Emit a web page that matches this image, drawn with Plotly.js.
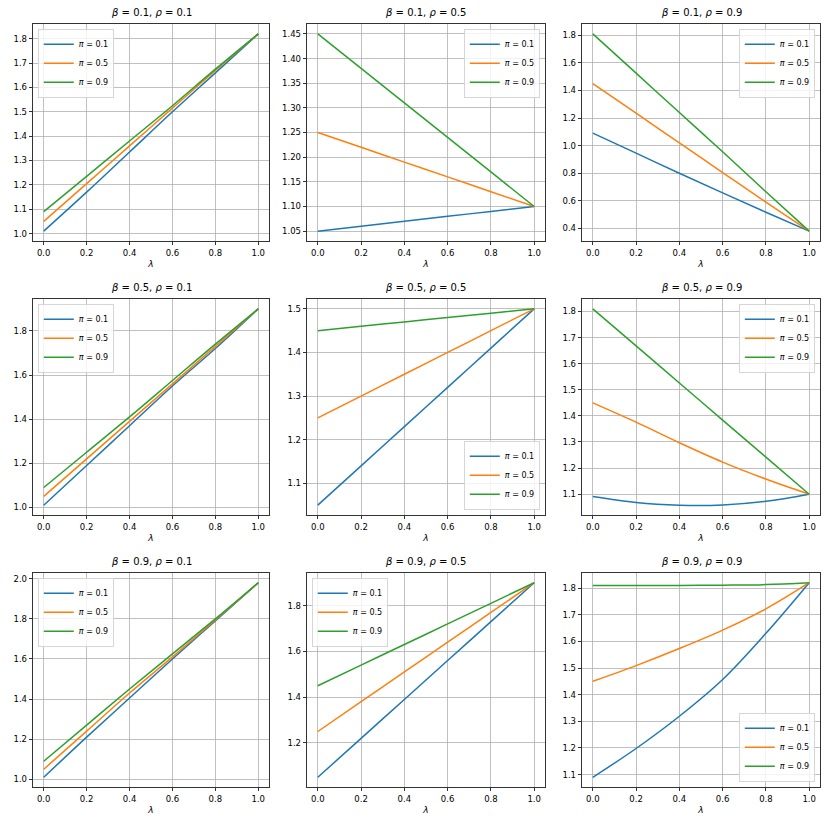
<!DOCTYPE html>
<html>
<head>
<meta charset="utf-8">
<script src="https://cdn.plot.ly/plotly-3.0.1.min.js"></script>
<style>html,body{margin:0;padding:0;background:#fff;}#chart{width:830px;height:830px;}</style>
</head>
<body>
<div id="chart"></div>
<script>
// lambda grid
const lam = [0, 0.2, 0.4, 0.6, 0.8, 1.0];
const piLabels = ['0.1', '0.5', '0.9'];

// beta=0.1, rho=0.1
const b01r01_p01 = [1.01, 1.17, 1.335, 1.50, 1.66, 1.82];
const b01r01_p05 = [1.05, 1.205, 1.36, 1.515, 1.67, 1.82];
const b01r01_p09 = [1.09, 1.235, 1.38, 1.525, 1.675, 1.82];
// beta=0.1, rho=0.5
const b01r05_p01 = [1.05, 1.06, 1.07, 1.08, 1.09, 1.10];
const b01r05_p05 = [1.25, 1.22, 1.19, 1.16, 1.13, 1.10];
const b01r05_p09 = [1.45, 1.38, 1.31, 1.24, 1.17, 1.10];
// beta=0.1, rho=0.9
const b01r09_p01 = [1.09, 0.945, 0.80, 0.657, 0.517, 0.38];
const b01r09_p05 = [1.45, 1.235, 1.02, 0.805, 0.59, 0.38];
const b01r09_p09 = [1.81, 1.525, 1.24, 0.955, 0.665, 0.38];
// beta=0.5, rho=0.1
const b05r01_p01 = [1.01, 1.19, 1.37, 1.55, 1.72, 1.90];
const b05r01_p05 = [1.05, 1.22, 1.39, 1.56, 1.73, 1.90];
const b05r01_p09 = [1.09, 1.25, 1.41, 1.575, 1.74, 1.90];
// beta=0.5, rho=0.5
const b05r05_p01 = [1.05, 1.14, 1.23, 1.32, 1.41, 1.50];
const b05r05_p05 = [1.25, 1.30, 1.35, 1.40, 1.45, 1.50];
const b05r05_p09 = [1.45, 1.46, 1.47, 1.48, 1.49, 1.50];
// beta=0.5, rho=0.9
const b05r09_p01 = [1.091, 1.068, 1.058, 1.059, 1.073, 1.10];
const b05r09_p05 = [1.45, 1.376, 1.297, 1.223, 1.158, 1.10];
const b05r09_p09 = [1.81, 1.668, 1.526, 1.384, 1.242, 1.10];
// beta=0.9, rho=0.1
const b09r01_p01 = [1.01, 1.21, 1.405, 1.60, 1.79, 1.98];
const b09r01_p05 = [1.05, 1.24, 1.43, 1.61, 1.795, 1.98];
const b09r01_p09 = [1.09, 1.27, 1.45, 1.625, 1.80, 1.98];
// beta=0.9, rho=0.5
const b09r05_p01 = [1.05, 1.22, 1.39, 1.56, 1.73, 1.90];
const b09r05_p05 = [1.25, 1.38, 1.51, 1.64, 1.77, 1.90];
const b09r05_p09 = [1.45, 1.54, 1.63, 1.72, 1.81, 1.90];
// beta=0.9, rho=0.9
const b09r09_p01 = [1.09, 1.198, 1.319, 1.457, 1.630, 1.82];
const b09r09_p05 = [1.45, 1.509, 1.573, 1.642, 1.722, 1.82];
const b09r09_p09 = [1.81, 1.81, 1.81, 1.811, 1.813, 1.82];

const betaLabels = ['0.1', '0.5', '0.9'];
const rhoLabels = ['0.1', '0.5', '0.9'];

const panels = [
  [b01r01_p01, b01r01_p05, b01r01_p09],
  [b01r05_p01, b01r05_p05, b01r05_p09],
  [b01r09_p01, b01r09_p05, b01r09_p09],
  [b05r01_p01, b05r01_p05, b05r01_p09],
  [b05r05_p01, b05r05_p05, b05r05_p09],
  [b05r09_p01, b05r09_p05, b05r09_p09],
  [b09r01_p01, b09r01_p05, b09r01_p09],
  [b09r05_p01, b09r05_p05, b09r05_p09],
  [b09r09_p01, b09r09_p05, b09r09_p09]
];

// styling / layout settings
const colors = ['#1f77b4', '#ff7f0e', '#2ca02c'];
const W = 830, H = 830;
const colPx = [[33, 269], [307, 545], [582, 820]];
const rowPx = [[24, 241], [299, 515], [573, 787]];
const dticks = [0.1, 0.05, 0.2, 0.2, 0.1, 0.1, 0.2, 0.2, 0.1];
const tfmt = ['.1f', '.2f', '.1f', '.1f', '.1f', '.1f', '.1f', '.1f', '.1f'];
const legPos = ['tl', 'tr', 'tr', 'tl', 'br', 'tr', 'tl', 'tl', 'br'];

const FONT = 'DejaVu Sans, sans-serif';
const traces = [];
const layout = {
  width: W, height: H,
  margin: {l: 0, r: 0, t: 0, b: 0},
  paper_bgcolor: '#fff', plot_bgcolor: '#fff',
  font: {family: FONT, size: 8.5, color: '#000'},
  annotations: [],
  showlegend: true
};

function yRange(arrs) {
  let mn = Infinity, mx = -Infinity;
  arrs.forEach(a => a.forEach(v => { mn = Math.min(mn, v); mx = Math.max(mx, v); }));
  const pad = (mx - mn) * 0.05;
  return [mn - pad, mx + pad];
}

panels.forEach((series, k) => {
  const r = Math.floor(k / 3), c = k % 3;
  const idx = k === 0 ? '' : String(k + 1);
  const xd = [colPx[c][0] / W, colPx[c][1] / W];
  const yd = [1 - rowPx[r][1] / H, 1 - rowPx[r][0] / H];
  const legName = 'legend' + idx;

  series.forEach((ys, j) => {
    traces.push({
      x: lam, y: ys, type: 'scatter', mode: 'lines',
      line: {color: colors[j], width: 1.5, shape: 'spline', smoothing: 1},
      name: '<i>π</i> = ' + piLabels[j],
      xaxis: 'x' + idx, yaxis: 'y' + idx,
      legend: legName
    });
  });

  const axCommon = {
    showline: true, mirror: true, linecolor: '#000', linewidth: 0.8,
    ticks: 'outside', ticklen: 3.5, tickwidth: 0.8, tickcolor: '#000',
    showgrid: true, gridcolor: '#b0b0b0', gridwidth: 0.8,
    zeroline: false,
    tickfont: {family: FONT, size: 8.5, color: '#000'}
  };
  layout['xaxis' + idx] = Object.assign({}, axCommon, {
    domain: xd, anchor: 'y' + idx,
    range: [-0.05, 1.05], tick0: 0, dtick: 0.2, tickformat: '.1f',
    title: {text: '<i>λ</i>', font: {family: FONT, size: 9}, standoff: 4}
  });
  layout['yaxis' + idx] = Object.assign({}, axCommon, {
    domain: yd, anchor: 'x' + idx,
    range: yRange(series), tick0: 0, dtick: dticks[k], tickformat: tfmt[k]
  });

  layout.annotations.push({
    xref: 'paper', yref: 'paper',
    x: (xd[0] + xd[1]) / 2, y: yd[1] + 4 / H,
    xanchor: 'center', yanchor: 'bottom', showarrow: false,
    text: '<i>β</i> = ' + betaLabels[r] + ', <i>ρ</i> = ' + rhoLabels[c],
    font: {family: FONT, size: 10, color: '#000'}
  });

  const pos = legPos[k];
  const lx = pos.includes('l') ? xd[0] + 5 / W : xd[1] - 5 / W;
  const ly = pos.includes('t') ? yd[1] - 5 / H : yd[0] + 5 / H;
  layout[legName] = {
    x: lx, y: ly,
    xanchor: pos.includes('l') ? 'left' : 'right',
    yanchor: pos.includes('t') ? 'top' : 'bottom',
    xref: 'paper', yref: 'paper',
    bgcolor: 'rgba(255,255,255,0.8)', bordercolor: '#cccccc', borderwidth: 0.8,
    font: {family: FONT, size: 8, color: '#000'},
    itemwidth: 30, tracegroupgap: 0
  };
});

Plotly.newPlot('chart', traces, layout, {staticPlot: true, displayModeBar: false});
</script>
</body>
</html>
